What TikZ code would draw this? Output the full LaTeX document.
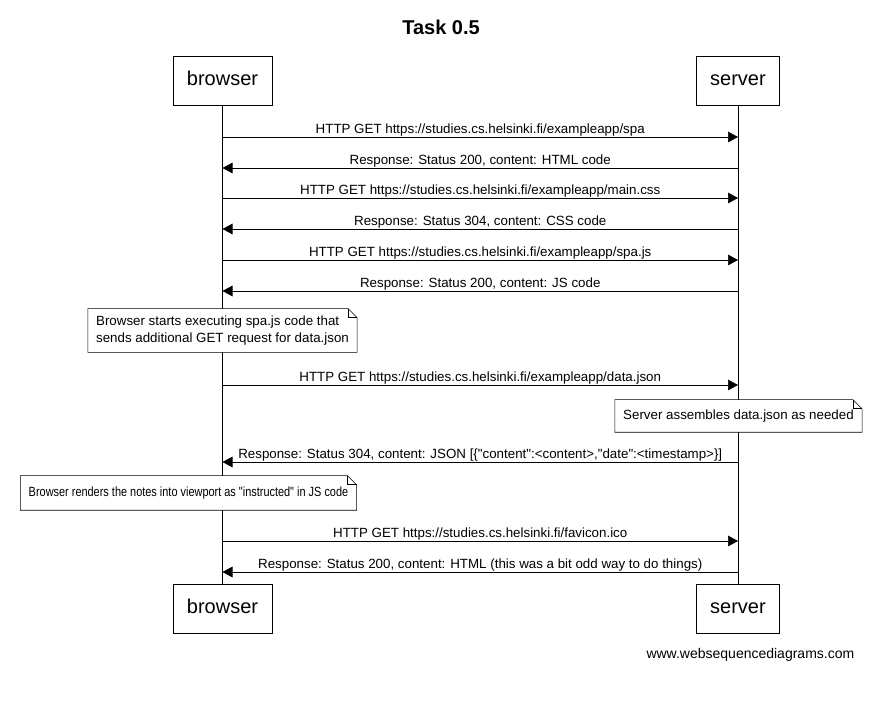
\documentclass[tikz,border=0pt]{standalone}
\usepackage{fontspec}
\setmainfont{Liberation Sans}[Ligatures=TeXOff]
\newfontfamily\narrowsans{Liberation Sans}[Ligatures=TeXOff,FakeStretch=0.82]
\usetikzlibrary{arrows.meta,calc,positioning}
% outline of a note with a folded corner
\newcommand{\dogear}[1]{%
  \draw (#1.north west) -- ($(#1.north east)+(-9,0)$) -- ($(#1.north east)+(0,9)$)
        -- (#1.south east) -- (#1.south west) -- cycle;
  \draw ($(#1.north east)+(-9,0)$) |- ($(#1.north east)+(0,9)$);
}

\begin{document}
\begin{tikzpicture}[x=0.75pt,y=-0.75pt,
    actor/.style={rectangle,draw=black,minimum height=36.75pt,inner xsep=10.3pt,
      text height=0.82em,text depth=0.12em,font=\fontsize{15}{18}\selectfont},
    note/.style={rectangle,fill=white,inner xsep=6pt,inner ysep=5pt,align=left,
      font=\fontsize{10}{13}\selectfont},
    msg/.style={-{Triangle[length=7.5pt,width=8pt]},
      every node/.style={above,inner sep=0.3pt,font=\fontsize{10}{12}\selectfont}}]
  \useasboundingbox (0,0) rectangle (869,705);

  \node[font=\bfseries\fontsize{15}{18}\selectfont] (title) at (441,27) {Task 0.5};

  \node[actor] (browser)  at (222.5,80.5) {browser};
  \node[actor] (server)   at (738,80.5)   {server};
  \node[actor] (browserb) at (222.5,609)  {browser};
  \node[actor] (serverb)  at (738,609)    {server};

  \draw (browser) -- (browserb);
  \draw (server) -- (serverb);

  \foreach \i/\y in {1/137,2/168,3/198,4/229,5/260,6/291,7/385,8/462,9/541,10/572} {
    \coordinate (b\i) at (222.5,\y);
    \coordinate (s\i) at (738,\y);
  }

  \node[note] (n1) at (222.5,330.5) {Browser starts executing spa.js code that\\sends additional GET request for data.json};
  \dogear{n1}
  \node[note,minimum height=24pt] (n2) at (738.5,416) {Server assembles data.json as needed};
  \dogear{n2}
  \node[note,minimum height=25.5pt,font=\narrowsans\fontsize{10}{13}\selectfont] (n3) at (188.5,493)
    {Browser renders the notes into viewport as "instructed" in JS code};
  \dogear{n3}

  \path[msg]
  (b1) edge node {HTTP GET https://studies.cs.helsinki.fi/exampleapp/spa} (s1)
  (s2) edge node {Response: Status 200, content: HTML code} (b2)
  (b3) edge node {HTTP GET https://studies.cs.helsinki.fi/exampleapp/main.css} (s3)
  (s4) edge node {Response: Status 304, content: CSS code} (b4)
  (b5) edge node {HTTP GET https://studies.cs.helsinki.fi/exampleapp/spa.js} (s5)
  (s6) edge node {Response: Status 200, content: JS code} (b6)
  (b7) edge node {HTTP GET https://studies.cs.helsinki.fi/exampleapp/data.json} (s7)
  (s8) edge node {Response: Status 304, content: JSON [\{"content":<content>,"date":<timestamp>\}]} (b8)
  (b9) edge node {HTTP GET https://studies.cs.helsinki.fi/favicon.ico} (s9)
  (s10) edge node {Response: Status 200, content: HTML (this was a bit odd way to do things)} (b10);

  \node[anchor=east,font=\fontsize{10.5}{13}\selectfont] (footer) at (859,655) {www.websequencediagrams.com};
\end{tikzpicture}
\end{document}
